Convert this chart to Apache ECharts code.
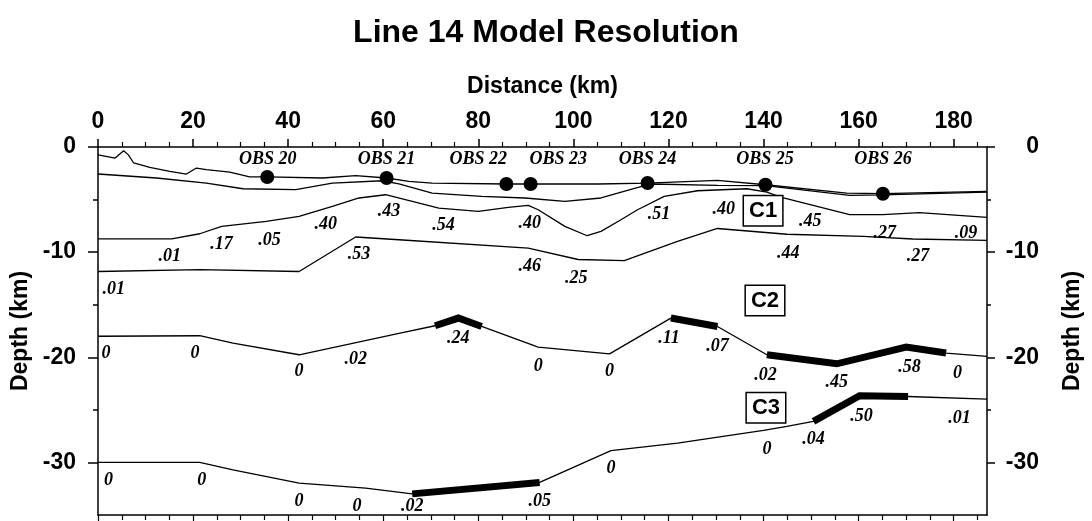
<!DOCTYPE html>
<html>
<head>
<meta charset="utf-8">
<script src="https://cdn.jsdelivr.net/npm/echarts@6/dist/echarts.min.js"></script>
<style>html,body{margin:0;padding:0;background:#fff}#c{width:1092px;height:521px}</style>
</head>
<body>
<div id="c"></div>
<script>
// ---- data (distance km, depth km) ----
const xTicks = [0, 20, 40, 60, 80, 100, 120, 140, 160, 180];
const yMajorTicks = [0, -10, -20, -30];
const yMinorTicks = [-5, -15, -25];

const seafloor = [[0,-0.74],[3.6,-1.05],[5.4,-0.35],[6.4,-0.75],[7.5,-1.52],[10.9,-1.94],[15.1,-2.32],[18.6,-2.57],[20.7,-2.0],[22.8,-2.16],[27.7,-2.38],[31.9,-2.85],[35.6,-2.85],[47.2,-2.95],[54.2,-2.73],[60.7,-2.95],[65.4,-3.27],[70.3,-3.43],[85.9,-3.52],[91.0,-3.52],[105.2,-3.52],[115.6,-3.43],[130.3,-3.18],[140.4,-3.59],[157.5,-4.38],[165.1,-4.44],[187,-4.22]];
const sediment = [[0,-2.57],[12.3,-2.95],[22.8,-3.43],[30.5,-3.97],[41.6,-4.06],[49.3,-3.43],[59.8,-3.21],[63.3,-3.5],[70.3,-4.38],[80.7,-4.7],[89.8,-4.85],[98.2,-5.17],[105.8,-4.85],[113.6,-3.84],[116.3,-3.52],[130.3,-3.65],[140.4,-3.68],[158.1,-4.6],[165.1,-4.55],[187,-4.3]];
const layerC1top = [[0,-8.74],[15.5,-8.74],[21.4,-8.25],[26.0,-7.55],[35.4,-7.08],[42.3,-6.6],[49.3,-5.65],[54.9,-4.85],[60.5,-4.54],[71.7,-5.81],[80.0,-6.13],[86.3,-5.74],[90.5,-5.56],[92.6,-5.97],[98.2,-7.55],[102.9,-8.44],[105.8,-8.03],[110.0,-6.92],[113.5,-5.97],[119.1,-4.7],[126.1,-4.16],[136.5,-3.97],[140.7,-4.3],[144.2,-4.85],[158.1,-6.44],[165.1,-6.44],[172.8,-6.24],[187,-6.7]];
const layerC1mid = [[0,-11.84],[21.4,-11.67],[42.3,-11.84],[54.2,-8.56],[63.3,-8.82],[90.5,-9.61],[101,-10.7],[110.7,-10.8],[121.9,-8.98],[130.3,-7.75],[144.9,-8.3],[161,-8.5],[171.4,-8.75],[187,-8.88]];
const layerC2base = [[0,-18.0],[21.4,-17.95],[28.4,-18.65],[42.3,-19.76],[63.3,-17.73],[70.9,-17.0],[75.8,-16.27],[80.7,-17.07],[92.6,-19.03],[107.6,-19.67],[120.5,-16.27],[130.3,-17.07],[140.7,-19.76],[155.4,-20.62],[170,-19.03],[178.4,-19.6],[187,-19.92]];
const moho = [[0,-30.0],[21.4,-30.0],[28.4,-30.7],[42.3,-31.97],[56.3,-32.45],[66.1,-32.99],[92.9,-31.9],[107.9,-28.87],[121.9,-28.16],[140,-26.96],[144.9,-26.58],[150.5,-26.1],[160.2,-23.66],[170.4,-23.73],[187,-23.98]];

const reflectE1 = [[70.9,-17.0],[75.8,-16.27],[80.7,-17.07]];
const reflectE2 = [[120.5,-16.27],[130.3,-17.07]];
const reflectE3 = [[140.7,-19.76],[155.4,-20.62],[170,-19.03],[178.4,-19.6]];
const reflectM1 = [[66.1,-32.99],[92.9,-31.9]];
const reflectM2 = [[150.5,-26.1],[160.2,-23.66],[170.4,-23.73]];

const obsNames = ['OBS 20','OBS 21','OBS 22','OBS 23','OBS 24','OBS 25','OBS 26'];
const obsPos = [[35.6,-2.85],[60.7,-2.95],[85.9,-3.52],[91.0,-3.52],[115.6,-3.43],[140.4,-3.59],[165.1,-4.44]];
const obsLabelPos = [[35.7,-1.21],[60.7,-1.21],[80.0,-1.21],[96.8,-1.21],[115.6,-1.21],[140.3,-1.21],[165.1,-1.21]];

const resolution = [
 [15.1,-10.41,'.01'],[26.0,-9.30,'.17'],[36.1,-8.89,'.05'],[47.9,-7.39,'.40'],[61.2,-6.13,'.43'],
 [72.7,-7.49,'.54'],[90.8,-7.23,'.40'],[118.0,-6.44,'.51'],[131.6,-5.97,'.40'],[149.8,-7.08,'.45'],
 [165.5,-8.18,'.27'],[182.6,-8.25,'.09'],[54.9,-10.25,'.53'],[90.8,-11.36,'.46'],[100.6,-12.46,'.25'],
 [145.2,-10.09,'.44'],[172.5,-10.41,'.27'],[3.3,-13.58,'.01'],
 [1.7,-19.6,'0'],[20.4,-19.6,'0'],[42.3,-21.35,'0'],[54.2,-20.24,'.02'],[75.8,-18.17,'.24'],
 [92.6,-20.88,'0'],[107.6,-21.35,'0'],[120.1,-18.17,'.11'],[130.3,-18.97,'.07'],[140.4,-21.67,'.02'],
 [155.4,-22.4,'.45'],[170.7,-20.93,'.58'],[180.8,-21.5,'0'],
 [140.7,-28.73,'0'],[150.5,-27.78,'.04'],[160.6,-25.63,'.50'],[181.2,-25.78,'.01'],[107.9,-30.54,'0'],
 [2.2,-31.66,'0'],[21.8,-31.66,'0'],[42.3,-33.72,'0'],[54.5,-34.2,'0'],[66.1,-34.2,'.02'],[92.9,-33.72,'.05']
];
const crustLabels = [[139.9,-6.06,'C1'],[140.3,-14.6,'C2'],[140.5,-24.8,'C3']];

// ---- chart ----
const SANS = "'Liberation Sans', Arial, Helvetica, sans-serif";
const SERIF = "'Liberation Serif', 'Times New Roman', serif";
const chart = echarts.init(document.getElementById('c'), null, {renderer: 'canvas'});

function thin(d) {
  return {type:'line', data:d, symbol:'none', silent:true, animation:false,
    lineStyle:{color:'#000', width:1.3, opacity:1}, z:2};
}
function thick(d) {
  return {type:'line', data:d, symbol:'none', silent:true, animation:false,
    lineStyle:{color:'#000', width:7, cap:'butt', join:'miter', opacity:1}, z:3};
}
const axisLine = {show:true, onZero:false, lineStyle:{color:'#000', width:1.5}};
const axisLabelStyle = {color:'#000', fontFamily:SANS, fontWeight:'bold', fontSize:23};
const italicLabel = {show:true, position:'inside', formatter:p=>p.data[2], color:'#000', opacity:1,
  fontFamily:SERIF, fontStyle:'italic', fontWeight:'bold', fontSize:18};
const hiddenItem = {color:'rgba(0,0,0,0)', opacity:1, borderWidth:0};

const option = {
  animation:false,
  backgroundColor:'#fff',
  title:{text:'Line 14 Model Resolution', left:'center', top:12,
    textStyle:{fontFamily:SANS, fontWeight:'bold', fontSize:32, color:'#000'}},
  grid:{left:98, right:101, top:147, bottom:6},
  xAxis:[
    {type:'value', position:'top', min:0, max:187, interval:20,
     name:'Distance (km)', nameLocation:'middle', nameGap:49,
     nameTextStyle:{color:'#000', fontFamily:SANS, fontWeight:'bold', fontSize:23},
     axisLine:axisLine,
     axisTick:{show:true, length:8, customValues:xTicks, lineStyle:{color:'#000', width:1.5}},
     minorTick:{show:true, splitNumber:4, length:5, lineStyle:{color:'#000', width:1.2}},
     axisLabel:Object.assign({margin:14, customValues:xTicks}, axisLabelStyle),
     splitLine:{show:false}},
    {type:'value', position:'bottom', min:0, max:187, interval:20,
     axisLine:axisLine,
     axisTick:{show:true, length:6, customValues:xTicks, lineStyle:{color:'#000', width:1.2}},
     minorTick:{show:true, splitNumber:4, length:5, lineStyle:{color:'#000', width:1.2}},
     axisLabel:{show:false}, splitLine:{show:false}}
  ],
  yAxis:[
    {type:'value', position:'left', min:-35, max:0, interval:5,
     name:'Depth (km)', nameLocation:'middle', nameGap:65, nameRotate:90,
     nameTextStyle:{color:'#000', fontFamily:SANS, fontWeight:'bold', fontSize:23},
     axisLine:axisLine,
     axisTick:{show:true, length:10, customValues:yMajorTicks, lineStyle:{color:'#000', width:1.5}},
     axisLabel:Object.assign({margin:22, customValues:yMajorTicks}, axisLabelStyle),
     splitLine:{show:false}},
    {type:'value', position:'left', min:-35, max:0, interval:5,
     axisLine:{show:false, onZero:false},
     axisTick:{show:true, length:5, customValues:yMinorTicks, lineStyle:{color:'#000', width:1.5}},
     axisLabel:{show:false}, splitLine:{show:false}},
    {type:'value', position:'right', min:-35, max:0, interval:5,
     name:'Depth (km)', nameLocation:'middle', nameGap:74, nameRotate:90,
     nameTextStyle:{color:'#000', fontFamily:SANS, fontWeight:'bold', fontSize:23},
     axisLine:axisLine,
     axisTick:{show:true, length:8, customValues:yMajorTicks, lineStyle:{color:'#000', width:1.5}},
     axisLabel:Object.assign({margin:52, align:'right', customValues:yMajorTicks}, axisLabelStyle),
     splitLine:{show:false}},
    {type:'value', position:'right', min:-35, max:0, interval:5,
     axisLine:{show:false, onZero:false},
     axisTick:{show:true, length:4, customValues:yMinorTicks, lineStyle:{color:'#000', width:1.5}},
     axisLabel:{show:false}, splitLine:{show:false}}
  ],
  series:[
    thin(seafloor), thin(sediment), thin(layerC1top), thin(layerC1mid), thin(layerC2base), thin(moho),
    thick(reflectE1), thick(reflectE2), thick(reflectE3), thick(reflectM1), thick(reflectM2),
    {type:'scatter', data:obsPos, symbol:'circle', symbolSize:14, silent:true,
     itemStyle:{color:'#000', opacity:1}, z:5},
    {type:'scatter', data:obsLabelPos.map((p,i)=>[p[0],p[1],obsNames[i]]), symbol:'circle', symbolSize:1, silent:true,
     itemStyle:hiddenItem, label:italicLabel, z:6},
    {type:'scatter', data:resolution, symbol:'circle', symbolSize:1, silent:true,
     itemStyle:hiddenItem, label:italicLabel, z:6},
    {type:'scatter', data:crustLabels, symbol:'circle', symbolSize:1, silent:true,
     itemStyle:hiddenItem,
     label:{show:true, position:'inside', formatter:p=>p.data[2], color:'#000', opacity:1,
       fontFamily:SANS, fontWeight:'bold', fontSize:22, backgroundColor:'#fff',
       borderColor:'#000', borderWidth:1.5, padding:[4,5,3,5]}, z:7}
  ]
};
chart.setOption(option);
</script>
</body>
</html>
